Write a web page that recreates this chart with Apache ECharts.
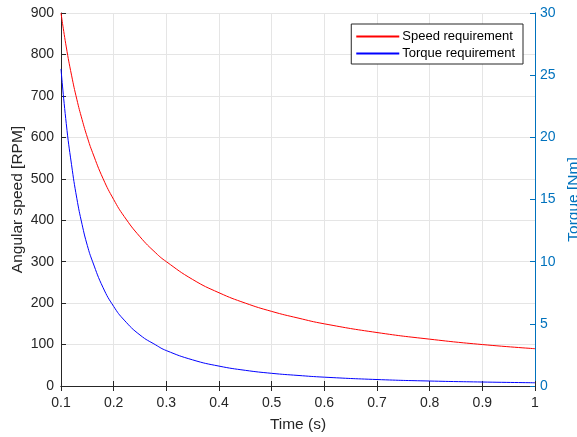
<!DOCTYPE html>
<html><head><meta charset="utf-8">
<script src="https://cdn.jsdelivr.net/npm/echarts@6/dist/echarts.min.js"></script>
<style>html,body{margin:0;padding:0;background:#fff}#c{width:577px;height:437px}</style>
</head><body><div id="c"></div>
<script>
const time = [0.10,0.11,0.12,0.13,0.14,0.15,0.16,0.18,0.20,0.22,0.25,0.28,0.30,0.35,0.40,0.45,0.50,0.55,0.60,0.70,0.80,0.90,1.00];
const speedRPM = [900,818,750,692,643,600,563,500,450,409,360,321,300,257,225,200,180,164,150,129,113,100,90];
const torqueNm = [25.5,21.1,17.8,15.1,13.0,11.3,10.0,7.9,6.4,5.3,4.1,3.3,2.85,2.1,1.6,1.26,1.02,0.85,0.71,0.52,0.40,0.32,0.26];
const xTicks = [0.1,0.2,0.3,0.4,0.5,0.6,0.7,0.8,0.9,1];
const seriesNames = ['Speed requirement','Torque requirement'];

const font = '"Liberation Sans", Arial, sans-serif';
const dark = '#262626';
const blueAx = '#0072BD';
const chart = echarts.init(document.getElementById('c'), null, {renderer:'canvas'});
chart.setOption({
  animation:false,
  grid:{left:61,right:42,top:13,bottom:51,show:false,containLabel:false,outerBoundsMode:'none'},
  legend:{
    orient:'vertical', right:54, top:24, data:seriesNames,
    backgroundColor:'#fff', borderColor:dark, borderWidth:1, borderRadius:0,
    padding:[6,8,4,4], itemGap:4, itemWidth:43, itemHeight:14,
    itemStyle:{opacity:0},
    textStyle:{fontFamily:font,fontSize:13,color:'#000',padding:[0,0,0,-2]}
  },
  xAxis:[{
    type:'value', min:0.1, max:1, interval:0.1,
    name:'Time (s)', nameLocation:'middle', nameGap:31, nameMoveOverlap:false,
    nameTextStyle:{fontFamily:font,fontSize:15.5,color:dark},
    axisLine:{lineStyle:{color:dark,width:1}},
    axisTick:{inside:true,length:5,lineStyle:{color:dark}},
    axisLabel:{fontFamily:font,fontSize:14,color:dark,margin:10,
      formatter:v=>{const t=xTicks.find(x=>Math.abs(x-v)<1e-6);return t===undefined?'':String(t);}},
    splitLine:{show:true,lineStyle:{color:'#e5e5e5',width:1}}
  },{
    type:'value', min:0.1, max:1, interval:0.1, position:'top',
    axisLine:{show:true,lineStyle:{color:dark,width:1}},
    axisTick:{show:true,inside:true,length:5,lineStyle:{color:dark}},
    axisLabel:{show:false}, splitLine:{show:false}
  }],
  yAxis:[{
    type:'value', min:0, max:900, interval:100,
    name:'Angular speed [RPM]', nameLocation:'middle', nameGap:35, nameMoveOverlap:false,
    nameTextStyle:{fontFamily:font,fontSize:15.5,color:dark},
    axisLine:{show:true,lineStyle:{color:dark,width:1}},
    axisTick:{show:true,inside:true,length:5,lineStyle:{color:dark}},
    axisLabel:{fontFamily:font,fontSize:14,color:dark,margin:7},
    splitLine:{show:true,lineStyle:{color:'#e5e5e5',width:1}}
  },{
    type:'value', min:0, max:30, interval:5, position:'right',
    name:'Torque [Nm]', nameLocation:'middle', nameGap:31, nameRotate:90, nameMoveOverlap:false,
    nameTextStyle:{fontFamily:font,fontSize:15.5,color:blueAx},
    axisLine:{show:true,lineStyle:{color:blueAx,width:1}},
    axisTick:{show:true,inside:true,length:5,lineStyle:{color:blueAx}},
    axisLabel:{fontFamily:font,fontSize:14,color:blueAx,margin:5},
    splitLine:{show:false}
  }],
  series:[{
    name:seriesNames[0], type:'line', xAxisIndex:0, yAxisIndex:0, smooth:true, symbol:'none',
    lineStyle:{color:'#ff0000',width:1}, itemStyle:{color:'#ff0000'},
    data: time.map((t,i)=>[t,speedRPM[i]])
  },{
    name:seriesNames[1], type:'line', xAxisIndex:0, yAxisIndex:1, smooth:true, symbol:'none',
    lineStyle:{color:'#0000ff',width:1}, itemStyle:{color:'#0000ff'},
    data: time.map((t,i)=>[t,torqueNm[i]])
  }]
});
</script></body></html>
